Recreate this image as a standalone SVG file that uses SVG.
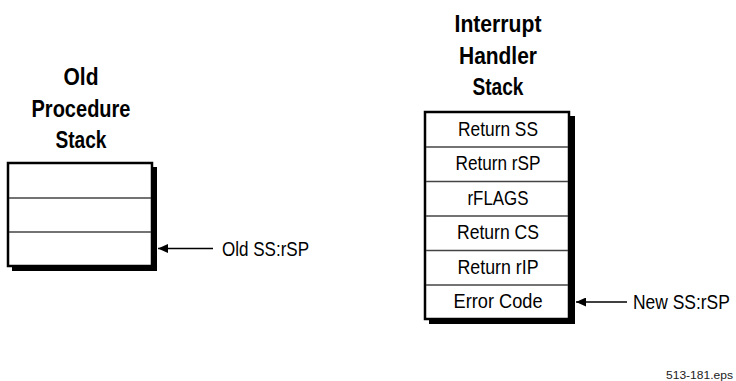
<svg xmlns="http://www.w3.org/2000/svg" width="736" height="381" viewBox="0 0 736 381">
<style>
text { font-family: "Liberation Sans", Arial, sans-serif; fill: #000; }
.title { font-size: 23px; font-weight: bold; text-anchor: middle; }
.cell { font-size: 21px; text-anchor: middle; }
.lbl { font-size: 21px; }
.foot { font-size: 11px; fill: #222; }
.frame { fill: #fff; stroke: #000; stroke-width: 2.5; }
.shadow { fill: #000; }
.row { stroke: #444; stroke-width: 1.3; }
.conn { stroke: #000; stroke-width: 1.5; fill: none; marker-end: url(#ah); }
</style>
<defs>
<marker id="ah" markerWidth="10" markerHeight="9" refX="10" refY="4.5" orient="auto" markerUnits="userSpaceOnUse">
<path d="M0,0 L10,4.5 L0,9 Z" fill="#000"/>
</marker>
</defs>

<g id="old-stack">
<text class="title" x="81" y="85" textLength="35" lengthAdjust="spacingAndGlyphs">Old</text>
<text class="title" x="81" y="117" textLength="99" lengthAdjust="spacingAndGlyphs">Procedure</text>
<text class="title" x="81" y="148" textLength="51" lengthAdjust="spacingAndGlyphs">Stack</text>
<rect class="shadow" x="12" y="167" width="145" height="104"/>
<rect class="frame" x="8" y="163" width="144" height="103"/>
<line class="row" x1="9" y1="198" x2="151" y2="198"/>
<line class="row" x1="9" y1="232" x2="151" y2="232"/>
</g>

<g id="handler-stack">
<text class="title" x="498" y="32" textLength="87" lengthAdjust="spacingAndGlyphs">Interrupt</text>
<text class="title" x="498" y="64" textLength="78" lengthAdjust="spacingAndGlyphs">Handler</text>
<text class="title" x="498" y="95" textLength="51" lengthAdjust="spacingAndGlyphs">Stack</text>
<rect class="shadow" x="429" y="116" width="146" height="208"/>
<rect class="frame" x="425" y="112" width="144" height="207"/>
<line class="row" x1="426" y1="147" x2="568" y2="147"/>
<line class="row" x1="426" y1="181.5" x2="568" y2="181.5"/>
<line class="row" x1="426" y1="216" x2="568" y2="216"/>
<line class="row" x1="426" y1="250.5" x2="568" y2="250.5"/>
<line class="row" x1="426" y1="285" x2="568" y2="285"/>
<text class="cell" x="498" y="135.5" textLength="80" lengthAdjust="spacingAndGlyphs">Return SS</text>
<text class="cell" x="498" y="170" textLength="85" lengthAdjust="spacingAndGlyphs">Return rSP</text>
<text class="cell" x="498" y="204.5" textLength="61" lengthAdjust="spacingAndGlyphs">rFLAGS</text>
<text class="cell" x="498" y="239" textLength="82" lengthAdjust="spacingAndGlyphs">Return CS</text>
<text class="cell" x="498" y="273.5" textLength="81" lengthAdjust="spacingAndGlyphs">Return rIP</text>
<text class="cell" x="498" y="308" textLength="89" lengthAdjust="spacingAndGlyphs">Error Code</text>
</g>

<g id="connectors">
<line class="conn" x1="213" y1="248.5" x2="158" y2="248.5"/>
<line class="conn" x1="627" y1="302" x2="576" y2="302"/>
</g>

<g id="label-old">
<text class="lbl" x="222" y="256" textLength="87" lengthAdjust="spacingAndGlyphs">Old SS:rSP</text>
</g>
<g id="label-new">
<text class="lbl" transform="translate(633,309) scale(0.83,1)" x="0" y="0">New SS:rSP</text>
</g>
<g id="footer">
<text class="foot" x="666" y="379" textLength="67" lengthAdjust="spacingAndGlyphs">513-181.eps</text>
</g>
</svg>
